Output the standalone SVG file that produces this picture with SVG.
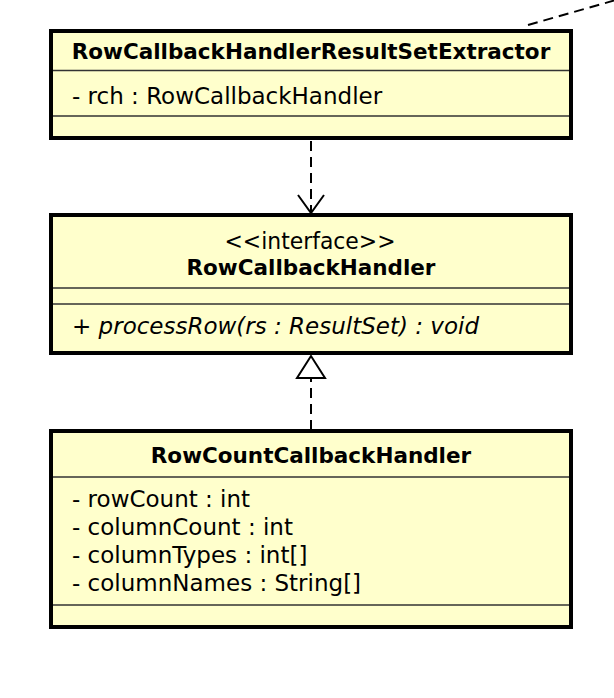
<svg xmlns="http://www.w3.org/2000/svg" width="614" height="698" viewBox="0 0 614 698">
<style>
.box{fill:#ffffcc;stroke:#000;stroke-width:4}
.sep{stroke:#333;stroke-width:1.6}
.t{font-family:"DejaVu Sans",sans-serif;font-size:23px;fill:#000}
.b{font-weight:bold;font-size:21.5px;text-anchor:middle}
.c{text-anchor:middle}
.i{font-style:italic}
.dash{fill:none;stroke:#000;stroke-width:2;stroke-dasharray:10,6}
</style>
<rect width="614" height="698" fill="#fff"/>
<g id="connectors">
<line class="dash" x1="528" y1="25" x2="630" y2="-4"/>
<line class="dash" x1="311" y1="141" x2="311" y2="212"/>
<polyline points="298,195 311,213 324,195" fill="none" stroke="#000" stroke-width="2"/>
<line class="dash" x1="311" y1="430" x2="311" y2="378"/>
<polygon points="311,356 297,378 325,378" fill="#fff" stroke="#000" stroke-width="2"/>
</g>
<g id="RowCallbackHandlerResultSetExtractor">
<rect class="box" x="51" y="31" width="520" height="107"/>
<text class="t b" x="311" y="59">RowCallbackHandlerResultSetExtractor</text>
<line class="sep" x1="53" y1="70.5" x2="569" y2="70.5"/>
<text class="t" x="72" y="104">- rch : RowCallbackHandler</text>
<line class="sep" x1="53" y1="116" x2="569" y2="116"/>
</g>
<g id="RowCallbackHandler">
<rect class="box" x="51" y="215" width="520" height="138"/>
<text class="t c" x="310" y="249" textLength="171" lengthAdjust="spacingAndGlyphs">&lt;&lt;interface&gt;&gt;</text>
<text class="t b" x="311" y="275">RowCallbackHandler</text>
<line class="sep" x1="53" y1="288" x2="569" y2="288"/>
<line class="sep" x1="53" y1="304" x2="569" y2="304"/>
<text class="t i" x="72" y="334">+ processRow(rs : ResultSet) : void</text>
</g>
<g id="RowCountCallbackHandler">
<rect class="box" x="51" y="431" width="520" height="196"/>
<text class="t b" x="311" y="463">RowCountCallbackHandler</text>
<line class="sep" x1="53" y1="477" x2="569" y2="477"/>
<text class="t" x="72" y="507">- rowCount : int</text>
<text class="t" x="72" y="535">- columnCount : int</text>
<text class="t" x="72" y="563">- columnTypes : int[]</text>
<text class="t" x="72" y="591">- columnNames : String[]</text>
<line class="sep" x1="53" y1="605" x2="569" y2="605"/>
</g>
</svg>
